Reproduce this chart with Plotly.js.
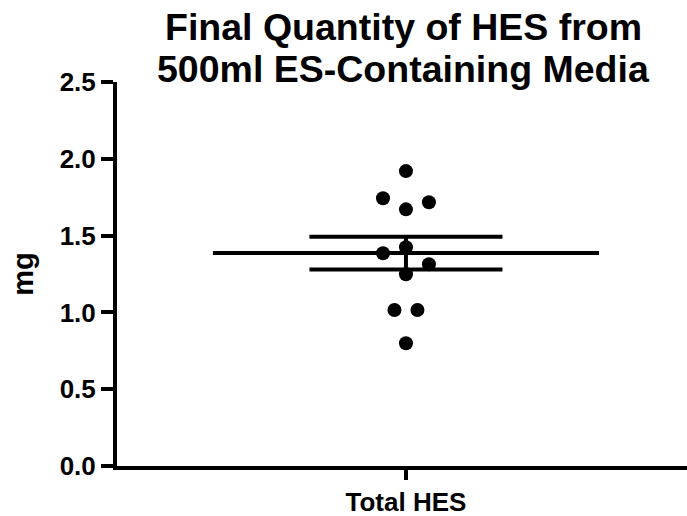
<!DOCTYPE html>
<html>
<head>
<meta charset="utf-8">
<script src="https://cdn.plot.ly/plotly-3.0.1.min.js"></script>
<style>html,body{margin:0;padding:0;background:#fff;}#chart{width:687px;height:516px;}</style>
</head>
<body>
<div id="chart"></div>
<script>
// Data
const categories = ["Total HES"];
const values  = [1.92, 1.743, 1.717, 1.671, 1.385, 1.424, 1.313, 1.248, 1.016, 1.016, 0.799];
const columns = [0, -1, 1, 0, -1, 0, 1, 0, -0.5, 0.5, 0];   // dot-stacking column per point
const yTickVals = [0, 0.5, 1.0, 1.5, 2.0, 2.5];
const yTickText = ["0.0", "0.5", "1.0", "1.5", "2.0", "2.5"];
const titleLines = ["Final Quantity of HES from", "500ml ES-Containing Media"];
const yTitle = "mg";

// summary statistics from the data
const n = values.length;
const mean = values.reduce((a, b) => a + b, 0) / n;
const sd = Math.sqrt(values.reduce((a, v) => a + (v - mean) * (v - mean), 0) / (n - 1));
const sem = sd / Math.sqrt(n);

// styling constants
const colW = 0.119;
const meanHalf = 1.0;
const semHalf = 0.5;
const LW = 4;
const FONT = "Liberation Sans, Arial, Helvetica, sans-serif";

function seg(x0, x1, y0, y1) {
  return { x: [x0, x1], y: [y0, y1], type: "scatter", mode: "lines",
           line: { color: "#000", width: LW }, showlegend: false, hoverinfo: "skip" };
}

const traces = [
  seg(-meanHalf, meanHalf, mean, mean),
  seg(-semHalf, semHalf, mean + sem, mean + sem),
  seg(-semHalf, semHalf, mean - sem, mean - sem),
  seg(0, 0, mean - sem, mean + sem),
  { x: columns.map(c => c * colW), y: values, type: "scatter", mode: "markers",
    marker: { color: "#000", size: 14 }, hoverinfo: "y", showlegend: false }
];

const layout = {
  width: 687, height: 516,
  margin: { l: 117, r: 0, t: 82, b: 50 },
  paper_bgcolor: "#fff", plot_bgcolor: "#fff",
  font: { family: FONT, color: "#000" },
  annotations: [
    { text: "<b>" + titleLines[0] + "</b>", xref: "paper", yref: "paper", x: 0.5035, y: 1.144,
      xanchor: "center", yanchor: "middle", showarrow: false,
      font: { family: FONT, size: 37.5, color: "#000" } },
    { text: "<b>" + titleLines[1] + "</b>", xref: "paper", yref: "paper", x: 0.5035, y: 1.034,
      xanchor: "center", yanchor: "middle", showarrow: false,
      font: { family: FONT, size: 37.5, color: "#000" } }
  ],
  xaxis: {
    range: [-1.497, 1.456], showgrid: false, zeroline: false,
    showline: true, linecolor: "#000", linewidth: LW,
    tickmode: "array", tickvals: [0], ticktext: categories.map(c => "<b>" + c + "</b>"),
    ticks: "outside", ticklen: 10, tickwidth: LW, tickcolor: "#000",
    tickfont: { family: FONT, size: 26, color: "#000" }
  },
  yaxis: {
    range: [0, 2.5], showgrid: false, zeroline: false,
    showline: true, linecolor: "#000", linewidth: LW,
    tickmode: "array", tickvals: yTickVals, ticktext: yTickText.map(t => "<b>" + t + "</b>"),
    ticks: "outside", ticklen: 12, tickwidth: LW, tickcolor: "#000",
    tickfont: { family: FONT, size: 26, color: "#000" },
    title: { text: "<b>" + yTitle + "</b>", font: { family: FONT, size: 29, color: "#000" }, standoff: 18 }
  }
};

Plotly.newPlot("chart", traces, layout, { displayModeBar: false, staticPlot: true });
</script>
</body>
</html>
